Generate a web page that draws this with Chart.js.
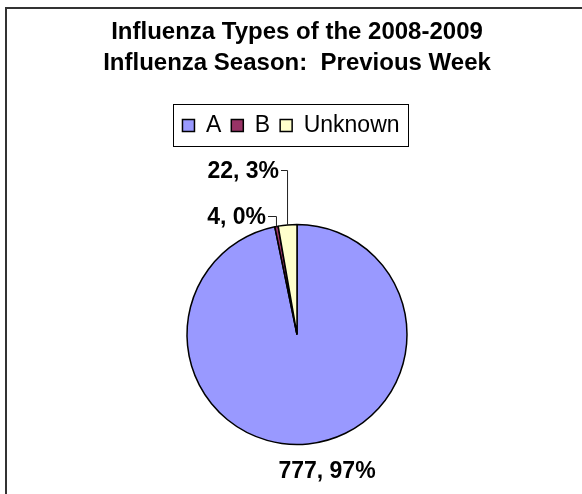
<!DOCTYPE html>
<html>
<head>
<meta charset="utf-8">
<script src="https://cdn.jsdelivr.net/npm/chart.js@4/dist/chart.umd.min.js"></script>
<style>
  html, body { margin: 0; padding: 0; width: 582px; height: 494px; overflow: hidden; background: #fff; }
  #frame { position: absolute; left: 5px; top: 7px; width: 580px; height: 515px;
           border-left: 2px solid #333; border-top: 2px solid #333; background: #fff; }
  #c { position: absolute; left: 0; top: 0; }
</style>
</head>
<body>
<div id="frame"><canvas id="c" width="578" height="513"></canvas></div>
<script>
// ---- data ----
const titleLines = ['Influenza Types of the 2008-2009', 'Influenza Season:  Previous Week'];
const categories = ['A', 'B', 'Unknown'];
const values = [777, 4, 22];
const colors = ['#9999FF', '#993366', '#FFFFCC'];

const FONT = "'Liberation Sans', Arial, sans-serif";
const total = values.reduce((a, b) => a + b, 0);

// label placement relative to pie centre (manually placed, as in the original)
const labelPlacement = [
  { dx: 30,  dy: 143.5,  align: 'center', leader: false },
  { dx: -31, dy: -110.5, align: 'right',  leader: true },
  { dx: -18, dy: -156.5, align: 'right',  leader: true }
];

const legendBoxPlugin = {
  id: 'legendBox',
  afterLayout(chart) {
    const lg = chart.legend;
    if (lg) { lg.left -= 6; lg.right -= 6; }
  },
  afterDraw(chart) {
    const lg = chart.legend;
    if (!lg || !lg.legendHitBoxes.length) return;
    const hb = lg.legendHitBoxes;
    const l = Math.min(...hb.map(h => h.left)) - 9;
    const r = Math.max(...hb.map(h => h.left + h.width)) + 9;
    const ctx = chart.ctx;
    ctx.save();
    ctx.strokeStyle = '#000';
    ctx.lineWidth = 1;
    ctx.strokeRect(Math.round(l) + 0.5, Math.round(lg.top) + 0.5, Math.round(r - l), Math.round(lg.bottom - lg.top) - 1);
    ctx.restore();
  }
};

const labelPlugin = {
  id: 'sliceLabels',
  afterDatasetsDraw(chart) {
    const ctx = chart.ctx;
    const meta = chart.getDatasetMeta(0);
    ctx.save();
    ctx.font = 'bold 23px ' + FONT;
    ctx.fillStyle = '#000';
    ctx.textBaseline = 'alphabetic';
    meta.data.forEach((arc, i) => {
      const p = arc.getProps(['x', 'y', 'startAngle', 'endAngle', 'outerRadius'], true);
      const mid = (p.startAngle + p.endAngle) / 2;
      const ax = p.x + Math.cos(mid) * p.outerRadius;
      const ay = p.y + Math.sin(mid) * p.outerRadius;
      const pct = Math.round(values[i] / total * 100);
      const text = values[i] + ', ' + pct + '%';
      const pl = labelPlacement[i];
      const tx = p.x + pl.dx, ty = p.y + pl.dy;
      ctx.textAlign = pl.align;
      ctx.fillText(text, tx, ty);
      if (pl.leader) {
        const ly = Math.round(ty - 8) + 0.5;
        ctx.beginPath();
        ctx.strokeStyle = '#222';
        ctx.lineWidth = 1;
        ctx.moveTo(tx + 2, ly);
        ctx.lineTo(ax, ly);
        ctx.lineTo(ax, ay);
        ctx.stroke();
      }
    });
    ctx.restore();
  }
};

new Chart(document.getElementById('c'), {
  type: 'pie',
  data: {
    labels: categories,
    datasets: [{
      data: values,
      backgroundColor: colors,
      borderColor: '#000',
      borderWidth: 1.5
    }]
  },
  options: {
    responsive: false,
    animation: false,
    radius: 110,
    layout: { padding: { left: 2, right: 0, top: 0, bottom: 0 } },
    plugins: {
      title: {
        display: true,
        text: titleLines,
        color: '#000',
        font: { family: FONT, size: 24, weight: 'bold', lineHeight: 31 / 24 },
        padding: { top: 8, bottom: 25 }
      },
      legend: {
        display: true,
        position: 'top',
        labels: {
          color: '#000',
          font: { family: FONT, size: 23 },
          boxWidth: 12,
          boxHeight: 12,
          padding: 10
        }
      },
      tooltip: { enabled: false }
    }
  },
  plugins: [legendBoxPlugin, labelPlugin]
});
</script>
</body>
</html>
